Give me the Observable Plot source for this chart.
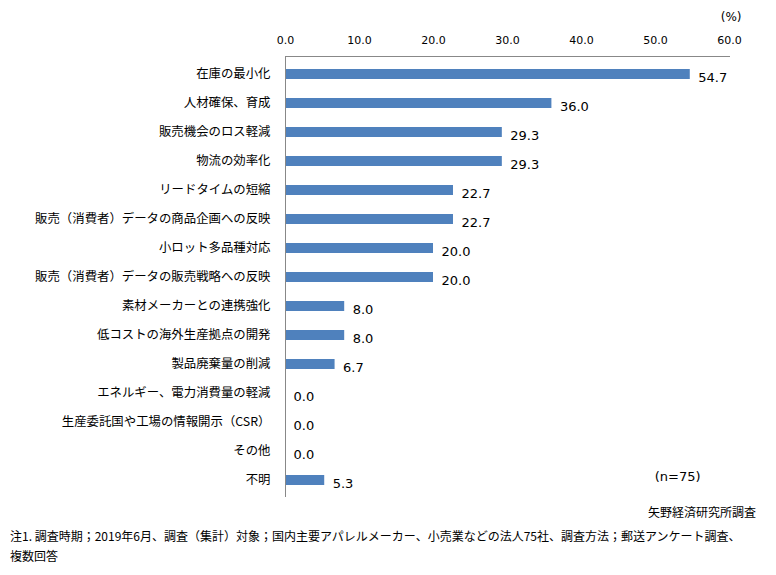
<!DOCTYPE html>
<html><head><meta charset="utf-8">
<script src="https://cdn.jsdelivr.net/npm/d3@7"></script>
<script src="https://cdn.jsdelivr.net/npm/@observablehq/plot@0.6"></script>
<style>
html,body{margin:0;padding:0;background:#fff;}
#chart{width:776px;}
.src{font-family:"Noto Sans CJK JP",sans-serif;font-size:12px;color:#000;text-align:right;padding-right:20px;margin-top:4px;line-height:16px;}
.note{font-family:"Noto Sans CJK JP",sans-serif;font-size:12px;color:#000;padding-left:10px;margin-top:6px;line-height:20px;}
</style>
</head><body>
<div id="chart"></div>
<div class="src">矢野経済研究所調査</div>
<div class="note">注1. 調査時期；2019年6月、調査（集計）対象；国内主要アパレルメーカー、小売業などの法人75社、調査方法；郵送アンケート調査、<br>複数回答</div>
<script>
const categories = ["在庫の最小化","人材確保、育成","販売機会のロス軽減","物流の効率化","リードタイムの短縮","販売（消費者）データの商品企画への反映","小ロット多品種対応","販売（消費者）データの販売戦略への反映","素材メーカーとの連携強化","低コストの海外生産拠点の開発","製品廃棄量の削減","エネルギー、電力消費量の軽減","生産委託国や工場の情報開示（CSR）","その他","不明"];
const values = [54.7,36.0,29.3,29.3,22.7,22.7,20.0,20.0,8.0,8.0,6.7,0.0,0.0,0.0,5.3];
const xTicks = [0,10,20,30,40,50,60];
const unitLabel = ["(%)"];
const nLabel = ["(n=75)"];

const data = categories.map((c,i)=>({name:c, value:values[i]}));
const numFont = "DejaVu Sans, Noto Sans CJK JP, sans-serif";

const chart = Plot.plot({
  width: 776, height: 500,
  marginTop: 56, marginLeft: 285, marginRight: 47, marginBottom: 3,
  style: {fontFamily: "Noto Sans CJK JP, sans-serif", fontSize: "12px", color: "#000", background: "#fff"},
  x: {domain: [0, 60]},
  y: {domain: categories, paddingInner: 0.66, paddingOuter: 0.33},
  marks: [
    Plot.barX(data, {x: "value", y: "name", fill: "#4F81BD"}),
    Plot.ruleX([0], {stroke: "#888"}),
    Plot.frame({anchor: "top", stroke: "#888"}),
    Plot.axisX(xTicks, {anchor: "top", tickSize: 0, tickPadding: 13, tickFormat: d => d.toFixed(1), fontFamily: numFont, fontSize: 11, label: null}),
    Plot.axisY({anchor: "left", tickSize: 0, tickPadding: 15, label: null, fontSize: 12.4}),
    Plot.text(data, {x: "value", y: "name", text: d => d.value.toFixed(1), dx: 8, dy: 3, textAnchor: "start", fontFamily: numFont, fontSize: 13}),
    Plot.text(unitLabel, {frameAnchor: "top-right", dx: 12, dy: -44, textAnchor: "end", fontFamily: numFont, fontSize: 12}),
    Plot.text(nLabel, {frameAnchor: "bottom-right", dx: -29, dy: -17, textAnchor: "end", fontFamily: numFont, fontSize: 13})
  ]
});
document.getElementById("chart").appendChild(chart);
</script>
</body></html>
